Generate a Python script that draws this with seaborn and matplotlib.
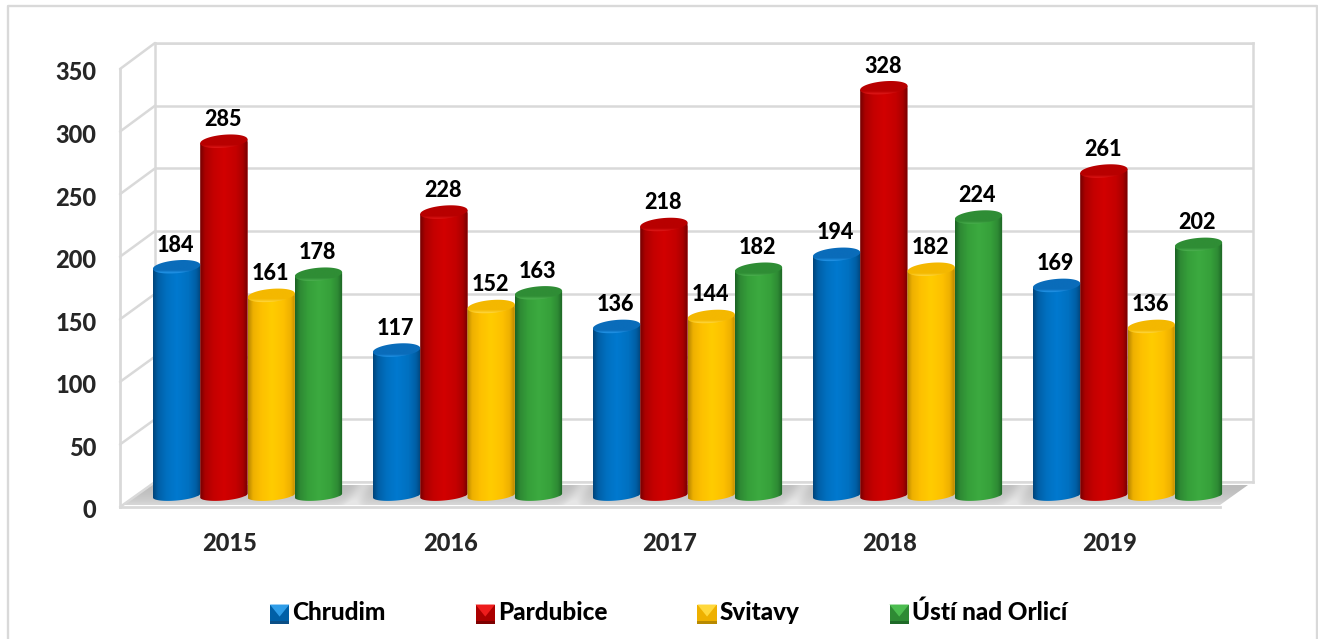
import numpy as np
import pandas as pd
import matplotlib
matplotlib.use("Agg")
import matplotlib.pyplot as plt
from matplotlib.colors import LinearSegmentedColormap
from matplotlib.legend_handler import HandlerBase
from matplotlib.lines import Line2D
from matplotlib.patches import Patch, Polygon
from matplotlib.transforms import ScaledTranslation
import seaborn as sns

# ---- data ----
years = ["2015", "2016", "2017", "2018", "2019"]
chrudim = [184, 117, 136, 194, 169]
pardubice = [285, 228, 218, 328, 261]
svitavy = [161, 152, 144, 182, 136]
usti = [178, 163, 182, 224, 202]
districts = ["Chrudim", "Pardubice", "Svitavy", "Ústí nad Orlicí"]
ticks = [0, 50, 100, 150, 200, 250, 300, 350]

# ---- styles ----
base = ["#0070c0", "#c40000", "#fdc000", "#36a03a"]
centre = ["#0079cf", "#d20000", "#ffcc00", "#3caa40"]
dark = ["#00457c", "#760000", "#b98800", "#1c6424"]
mid = ["#005fa6", "#ab0000", "#eeb000", "#2e8a34"]
cap_back = ["#0a6cba", "#b80000", "#f4b800", "#2f8d35"]
cap_front = ["#2396ea", "#e01818", "#ffd840", "#4cb250"]
bevel_light = ["#2f9de8", "#ee1c1c", "#ffd83c", "#4cbd50"]
bevel_dark = ["#0b4f86", "#7e0000", "#b88a00", "#1f6a28"]
grid_c = "#d9d9d9"
W, H = 1318, 639

sns.set_style("white")
plt.rcParams["font.family"] = ["Lato", "DejaVu Sans"]
plt.rcParams["font.weight"] = 900


def rect(l, t, r, b):
    return [l / W, 1 - b / H, (r - l) / W, (b - t) / H]


df = pd.DataFrame({
    "Rok": years * 4,
    "Okres": [d for d in districts for _ in years],
    "Počet": chrudim + pardubice + svitavy + usti,
})

fig = plt.figure(figsize=(W / 100, H / 100), dpi=100, facecolor="white")

# background: outer frame and floor shadow, in pixel coordinates
bg = fig.add_axes([0, 0, 1, 1], zorder=0)
bg.axis("off")
bg.plot([8, 8, 1316.5, 1316.5], [H, 6, 6, H], color=grid_c, lw=1.7)
floor = Polygon([(123, 505), (152, 485), (1248, 485), (1220, 505)], transform=bg.transData)
fl_cmap = LinearSegmentedColormap.from_list("fl", ["#b6b6b6", "#e6e6e6"])
fx = np.arange(120, 1250)
fy = np.arange(484, 506)
FX, FY = np.meshgrid(fx, fy)
shade = 0.15 + 0.65 * ((FY - 484) / 22) ** 2
for k in range(4):
    shade = shade + 0.5 * np.exp(-((FX - (357 + 220 * k) - (495 - FY) * 0.6) / 9.0) ** 2)
fl = bg.imshow(np.clip(shade, 0, 1), cmap=fl_cmap, vmin=0, vmax=1, aspect="auto",
               extent=(120, 1250, 506, 484), zorder=1, origin="upper")
fl.set_clip_path(floor)
bg.set_xlim(0, W)
bg.set_ylim(H, 0)

# back wall
wall = fig.add_axes(rect(155, 43, 1253, 482), zorder=1)
wall.patch.set_alpha(0)
wall.set_ylim(0, 350)
wall.set_xlim(-0.5, 4.5)
wall.set_yticks(ticks)
wall.set_yticklabels([])
wall.set_xticks([])
wall.grid(axis="y", color=grid_c, lw=1.8)
wall.tick_params(length=0)
for s in wall.spines.values():
    s.set_color(grid_c)
    s.set_linewidth(1.8)

# front plane: the axis labels
front = fig.add_axes(rect(120, 69, 1220, 507), zorder=2)
front.patch.set_alpha(0)
front.set_ylim(0, 350)
front.set_xlim(-0.5, 4.5)
front.set_yticks(ticks)
front.set_xticks(range(len(years)))
front.set_xticklabels(years)
front.tick_params(axis="y", length=0, pad=17, labelsize=17)
front.tick_params(axis="x", length=0, pad=18, labelsize=17)
shift = ScaledTranslation(0, -2 / 100, fig.dpi_scale_trans)
for lab in front.get_yticklabels():
    lab.set_transform(lab.get_transform() + shift)
front.spines["top"].set_visible(False)
front.spines["right"].set_visible(False)
for s in ("left", "bottom"):
    front.spines[s].set_color(grid_c)
    front.spines[s].set_linewidth(2.0)

# side wall diagonals, from the front plane to the back wall
for t in ticks:
    p0 = front.transData.transform((-0.5, t))
    p1 = wall.transData.transform((-0.5, t))
    fig.add_artist(Line2D([p0[0], p1[0]], [p0[1], p1[1]], transform=None,
                          color=grid_c, lw=1.8, zorder=1.5))

# cylinders
ax = fig.add_axes(rect(137.5, 495.5 - 350 * 1.243, 1237.5, 495.5 + 10 * 1.243), zorder=3)
sns.barplot(data=df, x="Rok", y="Počet", hue="Okres", hue_order=districts,
            palette=base, saturation=1, width=0.86, gap=0, legend=False, ax=ax)
ax.set_xlim(-0.5, 4.5)
ax.set_ylim(-10, 350)
ax.patch.set_alpha(0)
ax.axis("off")

cap_b, cap_k = 6.5 / 1.243, 2.0 / 1.243
t_top = np.linspace(0, 2 * np.pi, 80)
t_bot = np.linspace(np.pi, 2 * np.pi, 40)
for i, cont in enumerate(ax.containers):
    body_cmap = LinearSegmentedColormap.from_list(
        f"b{i}", [(0, dark[i]), (0.1, mid[i]), (0.28, base[i]),
                  (0.5, centre[i]), (0.75, base[i]), (0.9, mid[i]), (1, dark[i])])
    cap_cmap = LinearSegmentedColormap.from_list(
        f"c{i}", [(0, cap_back[i]), (0.72, cap_back[i]), (0.9, cap_front[i]), (1, base[i])])
    for p in cont.patches:
        x0, w, v = p.get_x(), p.get_width(), p.get_height()
        a, cx = w / 2, x0 + w / 2
        # body: straight sides and a curved foot
        foot_x = cx + a * np.cos(t_bot)
        foot_y = 5 / 1.243 * np.sin(t_bot) + cap_k * np.cos(t_bot)
        body_xy = np.vstack([[x0, v - cap_k], np.c_[foot_x, foot_y], [x0 + w, v + cap_k]])
        clip = Polygon(body_xy, transform=ax.transData)
        p.set_clip_path(clip)
        im = ax.imshow(np.linspace(0, 1, 64)[None, :], cmap=body_cmap, aspect="auto",
                       extent=(x0, x0 + w, -10, v + cap_k), zorder=3, interpolation="bilinear")
        im.set_clip_path(clip)
        # cap
        cap_x = cx + a * np.cos(t_top)
        cap_y = v + cap_b * np.sin(t_top) + cap_k * np.cos(t_top)
        clip2 = Polygon(np.c_[cap_x, cap_y], transform=ax.transData)
        im2 = ax.imshow(np.linspace(0, 1, 32)[:, None], cmap=cap_cmap, aspect="auto", origin="upper",
                        extent=(x0, x0 + w, v - cap_b - cap_k, v + cap_b + cap_k), zorder=4,
                        interpolation="bilinear")
        im2.set_clip_path(clip2)
        ax.annotate(f"{int(v)}", (cx - 0.005, v), xytext=(0, 15.6), textcoords="offset points",
                    ha="center", va="center", fontsize=15.5, fontweight=900,
                    color="black", zorder=6, annotation_clip=False)
ax.set_xlim(-0.5, 4.5)
ax.set_ylim(-10, 350)


# bevelled legend squares
class BevelHandler(HandlerBase):
    def create_artists(self, legend, orig, xd, yd, width, height, fontsize, trans):
        i = orig.bevel_index
        s = min(width, height)
        x, y = xd * -1, yd * -1
        cx, cy = x + s / 2, y + s * 0.38
        band = s * 0.15
        corners = dict(ll=(x, y), lr=(x + s, y), ur=(x + s, y + s), ul=(x, y + s))
        out = [Polygon([corners["ll"], corners["lr"], corners["ur"], corners["ul"]],
                       fc=mid[i], ec="none", transform=trans),
               Polygon([corners["ul"], corners["ur"], (cx, cy)], fc=bevel_light[i], ec="none", transform=trans),
               Polygon([corners["ll"], corners["lr"], (x + s, y + band), (x, y + band)],
                       fc=bevel_dark[i], ec="none", transform=trans)]
        return out


handles = []
for i, d in enumerate(districts):
    h = Patch(color=base[i], label=d)
    h.bevel_index = i
    handles.append(h)
fig.legend(handles=handles, labels=districts, ncol=4, loc="center",
           bbox_to_anchor=(668.5 / W, 1 - 612 / H), frameon=False, fontsize=17.5,
           handler_map={Patch: BevelHandler()}, handlelength=0.8, handleheight=1.15,
           handletextpad=0.12, columnspacing=3.7, labelcolor="black")

fig.savefig("out.png", dpi=100)
